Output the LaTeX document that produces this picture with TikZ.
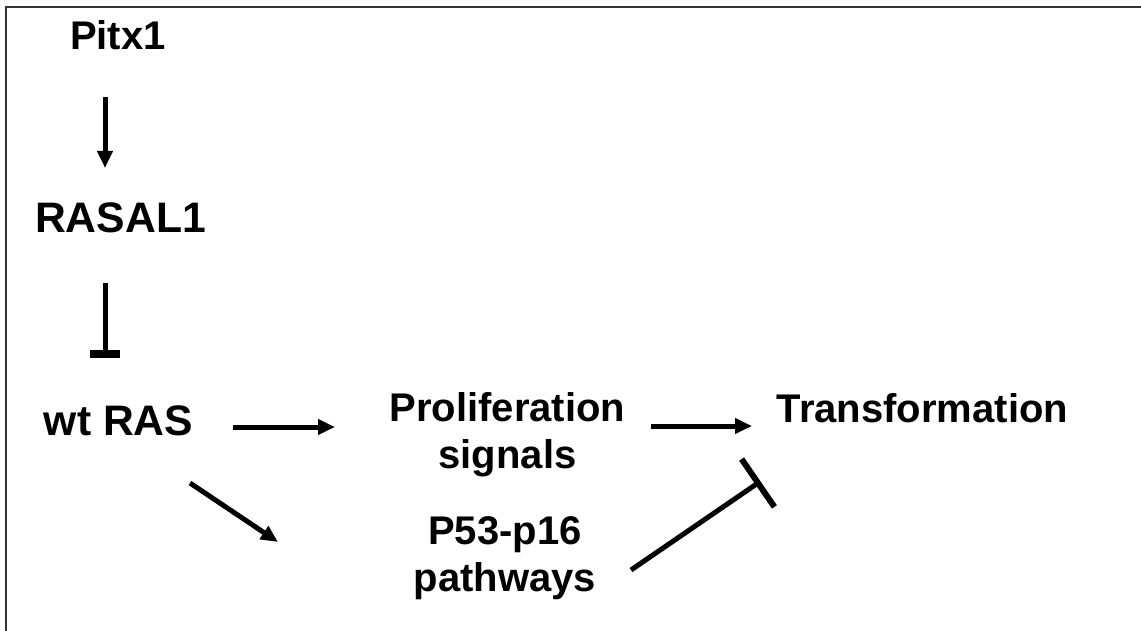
\documentclass[tikz,border=0pt]{standalone}
\usepackage{fontspec}
\setmainfont{Liberation Sans}
\usetikzlibrary{arrows.meta,calc}
\begin{document}
\begin{tikzpicture}[x=0.75pt,y=-0.75pt,
  lbl/.style={font=\bfseries\fontsize{30}{35.25}\selectfont, inner sep=0pt, align=center},
  lblbig/.style={font=\bfseries\fontsize{32}{36}\selectfont, inner sep=0pt, align=center},
  conn/.style={line width=3.75pt, -{Triangle[length=12.75pt,width=11.25pt]}},
  inh/.style={line width=3.75pt},
  barA/.style={line width=6pt},
  barB/.style={line width=4.5pt},
  frame/.style={line width=1.6pt, draw=black!80}]
\useasboundingbox (0,0) rectangle (1141,631);
\draw[frame] (6,631) -- (6,7) -- (1141,7);
% nodes
\node[lbl, anchor=base] (pitx) at (118,50) {Pitx1};
\node[lblbig, anchor=base] (rasal) at (120.5,232) {RASAL1};
\node[lblbig, anchor=base] (wtras) at (118.5,435) {wt RAS};
\node[lbl, anchor=north] (prolif) at (507.5,392) {Proliferation\\signals};
\node[lbl, anchor=base] (trans) at (922.5,422) {Transformation};
\node[lbl, anchor=north] (p53) at (505,516) {P53-p16\\pathways};
% connectors
\draw[conn] ([shift={(-13,47)}]pitx.base) -- ([shift={(-15.5,-64)}]rasal.base);
\draw[inh] ([shift={(-15.5,51)}]rasal.base) coordinate (i1s) -- ([shift={(-13.5,-81)}]wtras.base) coordinate (i1e);
\draw[barA] ($(i1e)!11.6pt!90:(i1s)$) -- ($(i1e)!11.6pt!-90:(i1s)$);
\draw[conn] ([shift={(114.5,-8)}]wtras.base) -- ([shift={(-172.5,35)}]prolif.north);
\draw[conn] ([shift={(143.5,34)}]prolif.north) -- ([shift={(-170.5,4)}]trans.base);
\draw[conn] ([shift={(71.5,48)}]wtras.base) -- ([shift={(-227,26)}]p53.north);
\draw[inh] ([shift={(126,54)}]p53.north) coordinate (i2s) -- ([shift={(-164.5,61)}]trans.base) coordinate (i2e);
\draw[barB] ($(i2e)!21.75pt!90:(i2s)$) -- ($(i2e)!21.75pt!-90:(i2s)$);
\end{tikzpicture}
\end{document}
